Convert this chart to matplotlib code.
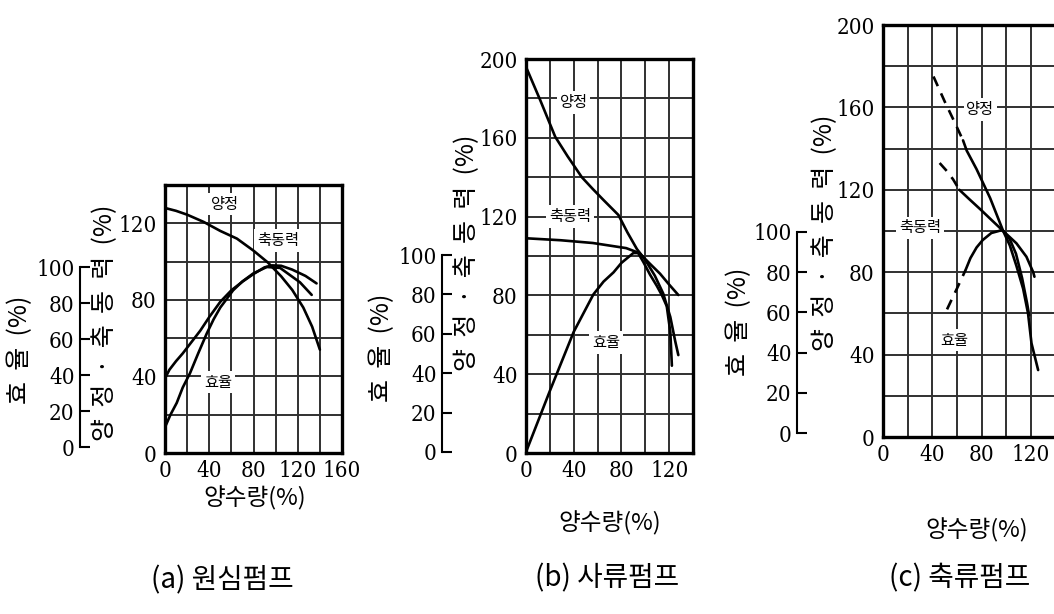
import os
import numpy as np
import matplotlib
matplotlib.use("Agg")
import matplotlib.pyplot as plt
from matplotlib import font_manager as fm

# ---------------------------------------------------------------- data
# (a) centrifugal pump: flow (%) vs head / shaft power (%) and efficiency (%)
head_a_q = [0, 10, 20, 35, 50, 65, 80, 93, 105, 115, 125, 133, 140]
head_a_v = [128, 126.5, 124.5, 120.7, 116, 112, 105.7, 99.5, 92.3, 85.2, 76, 66, 54]
power_a_q = [0, 4, 10, 16, 22, 32, 40, 50, 60, 70, 80, 90, 97, 105, 115, 127, 137]
power_a_v = [39, 43.5, 48, 52, 56.5, 64, 71, 79, 85, 89.5, 93.5, 97, 98, 97.8, 95.8, 92.5, 88.6]
eff_a_q = [0, 5, 10.6, 16, 22.6, 30, 37.7, 44, 50, 61.5, 70, 80, 92, 104, 113, 122, 132.6]
eff_a_v = [11, 18, 24.5, 33, 41, 52, 63, 71, 77.5, 87, 92, 96.5, 100, 99.5, 95.5, 91.5, 84.5]

# (b) mixed-flow pump
head_b_q = [0, 12, 24.5, 35, 46.8, 56, 65, 77.5, 85, 93, 100, 108, 115, 121, 125, 127.7]
head_b_v = [196, 179, 160.5, 150.5, 140, 134, 128.4, 120.8, 112, 103.5, 98, 90, 81, 69, 57, 49.7]
power_b_q = [0, 29, 56, 84, 95, 104, 112.4, 120, 127.7]
power_b_v = [109, 108, 106.6, 104, 101.5, 96, 91, 85.5, 80.2]
eff_b_q = [0, 20, 40, 56.5, 65, 73.4, 80, 90, 94, 98.5, 104, 109.6, 114, 118, 121, 122.3]
eff_b_v = [0, 31, 61, 80, 86.5, 91.2, 96, 101, 101, 96.3, 90, 84.4, 79.5, 74, 60.8, 43.8]

# (c) axial-flow pump (left part of each curve is the unstable, dashed range)
head_c_q = [41, 50, 58, 65, 68, 76, 87, 97.6, 103, 108.4, 113.8, 117.8, 120.6, 126]
head_c_v = [175, 163, 153, 144, 139, 130, 116, 100, 93, 83, 72, 60, 45.5, 32.5]
power_c_q = [46, 52, 57, 62, 70, 80, 87, 97.6, 103, 108.4, 116.5, 122, 123]
power_c_v = [133, 129, 125, 120, 115.5, 110, 106, 100, 97, 94, 87.5, 80, 77.8]
eff_c_q = [52, 56, 60, 67, 71, 76, 81, 88, 97, 103, 108, 113, 117, 118.7]
eff_c_v = [61.5, 66.7, 71.8, 81, 87, 92.3, 96, 99.5, 101, 96.4, 89.2, 77, 64.6, 58.5]
unstable_c = {"head": 65, "power": 62, "eff": 67}

# tick labels
x_ticks_a = [0, 40, 80, 120, 160]
y_ticks_a = [0, 40, 80, 120]
x_ticks_b = [0, 40, 80, 120]
y_ticks_b = [0, 40, 80, 120, 160, 200]
x_ticks_c = [0, 40, 80, 120]
y_ticks_c = [0, 40, 80, 120, 160, 200]
eff_ticks = [0, 20, 40, 60, 80, 100]

# texts (the vertical axis titles are letter-spaced)
titles = ["(a) 원심펌프", "(b) 사류펌프", "(c) 축류펌프"]
x_label = "양수량(%)"
y_label_main = "양  정  ·  축  동  력  (%)"
y_label_eff = "효  율  (%)"
curve_names = ["양정", "축동력", "효율"]

# ---------------------------------------------------------------- fonts
KR = "Noto Sans CJK KR"


def number_font(size):
    avail = {os.path.basename(f.fname): f.fname for f in fm.fontManager.ttflist}
    for name in ("LiberationSansNarrow-Regular.ttf", "DejaVuSerifCondensed.ttf",
                 "LiberationSerif-Regular.ttf"):
        if name in avail:
            return fm.FontProperties(fname=avail[name], size=size)
    return fm.FontProperties(family="Liberation Serif", size=size)


NUM = number_font(16)

# ---------------------------------------------------------------- layout
W, H = 1054, 614
fig = plt.figure(figsize=(W / 100, H / 100), dpi=100)
fig.patch.set_facecolor("white")


def px_box(l, t, r, b):
    return [l / W, 1 - b / H, (r - l) / W, (b - t) / H]


def ftext(x, y, s, **kw):
    fig.text(x / W, 1 - y / H, s, ha="center", va="center", **kw)


panels = [
    dict(box=(165, 185, 342, 453), xlim=(0, 160), ylim=(0, 140),
         xt=x_ticks_a, yt=y_ticks_a, eff_x=80, eff0=447, eff100=267,
         eff_lab=(20, 350), main_lab=(105, 323), xlab=(255, 498), title=(222, 580),
         names=[(54, 130), (102, 111), (48, 37)],
         head=(head_a_q, head_a_v), power=(power_a_q, power_a_v), eff=(eff_a_q, eff_a_v),
         unstable=None),
    dict(box=(526, 59, 693, 453), xlim=(0, 140), ylim=(0, 200),
         xt=x_ticks_b, yt=y_ticks_b, eff_x=442, eff0=452, eff100=255,
         eff_lab=(382, 348), main_lab=(467, 253), xlab=(610, 523), title=(607, 578),
         names=[(40, 178), (37, 120), (67, 56)],
         head=(head_b_q, head_b_v), power=(power_b_q, power_b_v), eff=(eff_b_q, eff_b_v),
         unstable=None),
    dict(box=(883, 25, 1080, 437), xlim=(0, 160), ylim=(0, 200),
         xt=x_ticks_c, yt=y_ticks_c, eff_x=797, eff0=433, eff100=232,
         eff_lab=(739, 322), main_lab=(825, 233), xlab=(977, 530), title=(960, 578),
         names=[(79, 159), (30, 101.5), (58, 47)],
         head=(head_c_q, head_c_v), power=(power_c_q, power_c_v), eff=(eff_c_q, eff_c_v),
         unstable=unstable_c),
]

LINE = dict(color="black", lw=1.9, zorder=3, solid_capstyle="round")


def draw_curve(axis, q, v, limit):
    q = np.asarray(q, float)
    v = np.asarray(v, float)
    if limit is None:
        axis.plot(q, v, **LINE)
        return
    lo = q <= limit
    hi = q >= limit
    axis.plot(q[lo], v[lo], linestyle=(0, (4, 3)), **LINE)
    axis.plot(q[hi], v[hi], **LINE)


for p in panels:
    l, t, r, b = p["box"]
    ax = fig.add_axes(px_box(l, t, r, b))
    ax.set_xlim(*p["xlim"])
    ax.set_ylim(*p["ylim"])
    ax.set_xticks(p["xt"])
    ax.set_yticks(p["yt"])
    ax.set_xticks(np.arange(p["xlim"][0], p["xlim"][1] + 1, 20), minor=True)
    ax.set_yticks(np.arange(p["ylim"][0], p["ylim"][1] + 1, 20), minor=True)
    ax.set_xticklabels([str(v) for v in p["xt"]], fontproperties=NUM)
    ax.set_yticklabels([str(v) for v in p["yt"]], fontproperties=NUM)
    ax.tick_params(which="both", length=0)
    ax.tick_params(axis="x", pad=5)
    ax.tick_params(axis="y", pad=6)
    ax.set_axisbelow(True)
    ax.grid(which="both", color="#303030", lw=1.4)
    for s in ax.spines.values():
        s.set_linewidth(2.4)
        s.set_color("black")
        s.set_zorder(4)

    # efficiency uses its own scale on a twin axis
    scale = (p["eff0"] - p["eff100"]) / 100.0
    eff_lim = (-(b - p["eff0"]) / scale, (p["eff0"] - t) / scale)
    ax_e = ax.twinx()
    ax_e.set_ylim(*eff_lim)
    ax_e.set_axis_off()

    lim = p["unstable"] or {}
    draw_curve(ax, *p["head"], lim.get("head"))
    draw_curve(ax, *p["power"], lim.get("power"))
    draw_curve(ax_e, *p["eff"], lim.get("eff"))

    for name, (xn, yn) in zip(curve_names, p["names"]):
        ax.text(xn, yn, name, family=KR, fontsize=11, ha="center", va="center",
                zorder=2.5, bbox=dict(fc="white", ec="none", pad=2.0))

    # separate efficiency scale
    sc = fig.add_axes(px_box(p["eff_x"], t, p["eff_x"] + 12, b))
    sc.patch.set_visible(False)
    for s in ("top", "right", "bottom"):
        sc.spines[s].set_visible(False)
    sc.spines["left"].set_bounds(0, 100)
    sc.spines["left"].set_linewidth(1.5)
    sc.set_ylim(*eff_lim)
    sc.set_xticks([])
    sc.set_yticks(eff_ticks)
    sc.set_yticklabels([str(v) for v in eff_ticks], fontproperties=NUM)
    sc.tick_params(axis="y", direction="in", length=7, width=1.5, pad=4)

    ftext(*p["eff_lab"], y_label_eff, rotation=90, family=KR, fontsize=18)
    ftext(*p["main_lab"], y_label_main, rotation=90, family=KR, fontsize=18)
    ftext(*p["xlab"], x_label, family=KR, fontsize=17)

for p, title in zip(panels, titles):
    ftext(*p["title"], title, family=KR, fontsize=20)

fig.savefig("out.png", dpi=100, facecolor="white")
